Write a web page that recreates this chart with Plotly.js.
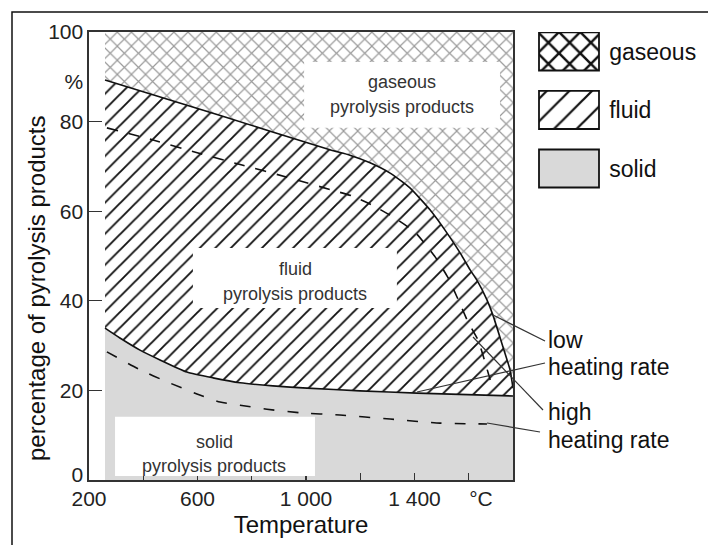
<!DOCTYPE html>
<html>
<head>
<meta charset="utf-8">
<script src="https://cdn.plot.ly/plotly-3.0.1.min.js"></script>
<style>html,body{margin:0;padding:0;background:#fff;}#chart{width:708px;height:545px;}</style>
</head>
<body>
<div id="chart"></div>
<script>
// ---- data ----
// low heating rate: boundary gaseous / fluid
const tempLowUpper = [259, 687, 1088, 1162, 1236, 1310, 1383, 1457, 1520, 1568, 1605, 1630, 1667, 1689, 1726, 1752, 1763];
const pctLowUpper  = [89.3, 81.3, 73.7, 72.5, 70.8, 68.5, 65.2, 60.3, 55.1, 50.7, 46.9, 44.6, 40.2, 36.8, 29.7, 24.6, 20.5];
// low heating rate: boundary fluid / solid
const tempLowLower = [259, 314, 388, 462, 561, 657, 757, 878, 1004, 1199, 1409, 1763];
const pctLowLower  = [33.9, 31.7, 29.0, 26.8, 24.1, 22.8, 21.7, 21.0, 20.5, 19.9, 19.4, 18.75];
// high heating rate: boundary gaseous / fluid
const tempHighUpper = [266, 436, 602, 764, 930, 1096, 1170, 1243, 1321, 1402, 1476, 1524, 1557, 1597, 1634, 1660, 1686];
const pctHighUpper  = [78.6, 75.9, 73.0, 70.3, 67.6, 64.7, 63.4, 61.4, 58.7, 55.3, 49.8, 45.1, 40.8, 35.3, 31.25, 26.3, 20.8];
// high heating rate: boundary fluid / solid
const tempHighLower = [266, 388, 488, 598, 683, 757, 856, 978, 1125, 1310, 1494, 1667];
const pctHighLower  = [28.6, 24.6, 21.9, 19.2, 17.4, 16.7, 15.8, 15.0, 14.5, 13.6, 12.7, 12.5];
// top of the chart (100 %)
const tempTop = [259, 1763];
const pctTop  = [100, 100];

const xTickVals = [200, 600, 1000, 1400, 1645];
const xTickText = ['200', '600', '1 000', '1 400', '°C'];
const xMinorTicks = [400, 600, 800, 1000, 1200, 1400, 1600];
const yTickVals = [1.2, 20, 40, 60, 80, 89, 100];
const yTickText = ['0', '20', '40', '60', '80', '%', '100'];
const yMinorTicks = [20, 40, 60, 80];

const legendNames = ['gaseous', 'fluid', 'solid'];
const legendValues = [1, 1, 1];

// ---- layout helpers (pixel -> paper) ----
const ML = 89, MR = 107, MT = 32, MB = 65, W = 708, H = 545;
const PW = W - ML - MR, PH = H - MT - MB;
const px = x => (x - ML) / PW;
const py = y => (H - MB - y) / PH;

const FONT = 'Liberation Sans, Arial, sans-serif';
const GRAY = '#d9d9d9';
const SPL = {shape: 'spline', smoothing: 0.5};

const traces = [
  { x: tempLowLower, y: pctLowLower, type: 'scatter', mode: 'none', fill: 'tozeroy',
    fillcolor: GRAY, line: SPL, hoverinfo: 'skip', showlegend: false },
  { x: tempLowUpper, y: pctLowUpper, type: 'scatter', mode: 'none', fill: 'tonexty',
    fillcolor: 'white', line: SPL,
    fillpattern: {shape: '/', fgcolor: '#111', bgcolor: 'white', size: 11, solidity: 0.17},
    hoverinfo: 'skip', showlegend: false },
  { x: tempTop, y: pctTop, type: 'scatter', mode: 'none', fill: 'tonexty',
    fillcolor: 'white',
    fillpattern: {shape: 'x', fgcolor: '#9a9a9a', bgcolor: 'white', size: 10, solidity: 0.22},
    hoverinfo: 'skip', showlegend: false },
  { x: tempLowUpper, y: pctLowUpper, type: 'scatter', mode: 'lines',
    line: Object.assign({color: '#111', width: 1.6}, SPL), hoverinfo: 'skip', showlegend: false },
  { x: tempLowLower, y: pctLowLower, type: 'scatter', mode: 'lines',
    line: Object.assign({color: '#111', width: 1.6}, SPL), hoverinfo: 'skip', showlegend: false },
  { x: tempHighUpper, y: pctHighUpper, type: 'scatter', mode: 'lines',
    line: Object.assign({color: '#111', width: 1.6, dash: '11px,11px'}, SPL), hoverinfo: 'skip', showlegend: false },
  { x: tempHighLower, y: pctHighLower, type: 'scatter', mode: 'lines',
    line: Object.assign({color: '#111', width: 1.6, dash: '11px,13px'}, SPL), hoverinfo: 'skip', showlegend: false }
];

// legend swatches: one bar per product class in a small side subplot
const swatchStyles = [
  {color: 'white', pattern: {shape: 'x', fgcolor: '#111', bgcolor: 'white', size: 15, solidity: 0.3}},
  {color: 'white', pattern: {shape: '/', fgcolor: '#111', bgcolor: 'white', size: 16, solidity: 0.14}},
  {color: GRAY}
];
legendNames.forEach((name, i) => {
  traces.push({
    type: 'bar', orientation: 'h', y: [name], x: [legendValues[i]], base: 0,
    xaxis: 'x2', yaxis: 'y2', width: 0.65, hoverinfo: 'skip', showlegend: false,
    marker: Object.assign({line: {color: '#111', width: 1.8}}, swatchStyles[i])
  });
});

const labelFont = {family: FONT, size: 18, color: '#333'};
const sideFont = {family: FONT, size: 23, color: '#111'};
function ann(text, x, y, font, xanchor, angle) {
  return {text: text, x: px(x), y: py(y), xref: 'paper', yref: 'paper', showarrow: false,
          xanchor: xanchor || 'center', yanchor: 'middle', font: font, textangle: angle || 0};
}
function seg(x0, y0, x1, y1) {
  return {type: 'line', xref: 'paper', yref: 'paper', x0: px(x0), y0: py(y0), x1: px(x1), y1: py(y1),
          line: {color: '#333', width: 1.2}, layer: 'above'};
}
function whiteBox(t0, t1, p0, p1) {
  return {type: 'rect', xref: 'x', yref: 'y', x0: t0, x1: t1, y0: p0, y1: p1,
          fillcolor: 'white', line: {width: 0}, layer: 'above'};
}

const layout = {
  width: W, height: H,
  margin: {l: ML, r: MR, t: MT, b: MB, pad: 0},
  paper_bgcolor: 'white', plot_bgcolor: 'white',
  font: {family: FONT, size: 21, color: '#222'},
  barmode: 'overlay',
  xaxis: {
    domain: [0, (513 - ML) / PW], range: [200, 1763], showgrid: false, zeroline: false,
    showline: true, mirror: true, linecolor: '#333', linewidth: 1.6,
    tickmode: 'array', tickvals: xTickVals, ticktext: xTickText, ticks: '',
    tickfont: {family: FONT, size: 21, color: '#222'}, ticklabelstandoff: -1,
    minor: {tickmode: 'array', tickvals: xMinorTicks, ticks: 'inside', ticklen: 7, tickcolor: '#333', tickwidth: 1.3},
    title: {text: 'Temperature', font: {family: FONT, size: 24, color: '#111'}, standoff: 7},
    fixedrange: true
  },
  yaxis: {
    range: [0, 100], showgrid: false, zeroline: false,
    showline: true, mirror: true, linecolor: '#333', linewidth: 1.6,
    tickmode: 'array', tickvals: yTickVals, ticktext: yTickText, ticks: '',
    tickfont: {family: FONT, size: 21, color: '#222'},
    minor: {tickmode: 'array', tickvals: yMinorTicks, ticks: 'inside', ticklen: 13, tickcolor: '#333', tickwidth: 1.3},
    fixedrange: true
  },
  xaxis2: {domain: [px(537.8), px(600.2)], range: [-0.02, 1.02], anchor: 'y2', visible: false, fixedrange: true},
  yaxis2: {domain: [py(197.75), 1], anchor: 'x2', type: 'category', range: [2.5, -0.333],
           side: 'right', showline: false, showgrid: false, zeroline: false, ticks: '',
           tickfont: {family: FONT, size: 23, color: '#111'}, ticklabelstandoff: 8, fixedrange: true},
  shapes: [
    {type: 'rect', xref: 'paper', yref: 'paper', x0: px(12), x1: px(780), y0: py(600), y1: py(12),
     line: {color: '#111', width: 1.5}, fillcolor: 'rgba(0,0,0,0)', layer: 'below'},
    whiteBox(993, 1715, 78.6, 93.3),
    whiteBox(583, 1335, 38.4, 51.8),
    whiteBox(296, 1033, 0.9, 14.1),
    seg(545, 341, 493, 315),
    seg(545, 363, 417, 392),
    seg(543, 410, 473, 337),
    seg(540, 432, 487, 423)
  ],
  annotations: [
    ann('percentage of pyrolysis products', 36, 288, {family: FONT, size: 24, color: '#111'}, 'center', -90),
    ann('gaseous', 402, 82, labelFont),
    ann('pyrolysis products', 402, 107, labelFont),
    ann('fluid', 295, 269, labelFont),
    ann('pyrolysis products', 295, 294, labelFont),
    ann('solid', 214, 442, labelFont),
    ann('pyrolysis products', 214, 466, labelFont),
    ann('low', 546, 340, sideFont, 'left'),
    ann('heating rate', 546, 367, sideFont, 'left'),
    ann('high', 546, 412, sideFont, 'left'),
    ann('heating rate', 546, 440, sideFont, 'left')
  ],
  showlegend: false
};

Plotly.newPlot('chart', traces, layout, {staticPlot: true, displayModeBar: false});
</script>
</body>
</html>
